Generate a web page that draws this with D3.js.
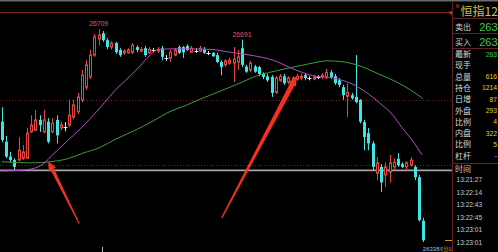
<!DOCTYPE html>
<html>
<head>
<meta charset="utf-8">
<script src="https://cdn.jsdelivr.net/npm/d3@7"></script>
<style>
html, body { margin: 0; padding: 0; background: #000; overflow: hidden; }
svg { display: block; }
</style>
</head>
<body>
<div id="chart"></div>
<script>

// bar prices (one entry per bar, left to right)
var opens  = [26548,26513,26487,26481,26481,26484,26484,26530,26533,26551,26530,26548,26530,26551,26537,26539,26542,26556,26565,26586,
              26608,26626,26664,26692,26702,26690,26678,26685,26673,26668,26668,26669,26678,26671,26676,26668,26673,26671,26676,26659,
              26659,26664,26678,26678,26680,26669,26672,26671,26674,26668,26668,26664,26652,26647,26650,26650,26652,26676,26644,26638,
              26644,26643,26631,26627,26626,26599,26620,26627,26617,26615,26622,26624,26629,26624,26622,26626,26626,26626,26634,26627,
              26620,26608,26592,26594,26591,26586,26547,26528,26510,26458,26469,26455,26460,26469,26483,26474,26469,26472,26469,26451,26375];
var highs  = [26573,26523,26495,26484,26521,26507,26537,26559,26568,26559,26568,26554,26554,26559,26547,26547,26586,26586,26598,26638,
              26655,26673,26701,26709,26706,26694,26688,26687,26676,26674,26676,26685,26681,26678,26680,26678,26676,26678,26680,26664,
              26673,26676,26681,26680,26683,26680,26676,26680,26678,26671,26669,26668,26655,26657,26659,26678,26673,26691,26647,26654,
              26647,26645,26634,26631,26629,26627,26631,26631,26627,26627,26631,26631,26633,26627,26629,26629,26633,26640,26638,26631,
              26624,26612,26615,26598,26664,26587,26551,26537,26514,26486,26474,26477,26490,26484,26493,26477,26479,26486,26472,26455,26380];
var lows   = [26512,26484,26477,26463,26479,26481,26483,26528,26531,26530,26528,26510,26528,26510,26533,26531,26538,26552,26561,26582,
              26603,26622,26661,26681,26687,26674,26674,26666,26661,26664,26666,26666,26669,26669,26661,26666,26669,26668,26655,26654,
              26652,26662,26666,26659,26671,26668,26668,26669,26666,26664,26661,26650,26629,26643,26647,26617,26638,26643,26633,26634,
              26633,26627,26622,26617,26591,26596,26617,26612,26613,26612,26619,26620,26620,26620,26620,26622,26622,26622,26622,26612,
              26608,26586,26556,26586,26580,26545,26498,26498,26463,26446,26425,26434,26442,26463,26469,26467,26463,26469,26446,26374,26338];
var closes = [26516,26487,26481,26469,26498,26495,26528,26542,26551,26542,26551,26513,26545,26524,26542,26539,26559,26577,26591,26629,
              26647,26664,26696,26699,26690,26678,26685,26669,26664,26671,26673,26681,26673,26674,26664,26674,26673,26674,26661,26659,
              26669,26673,26668,26669,26673,26676,26672,26676,26668,26668,26662,26652,26643,26654,26655,26657,26661,26647,26635,26650,
              26635,26631,26626,26620,26598,26624,26627,26615,26624,26624,26627,26627,26624,26624,26626,26626,26629,26634,26626,26615,
              26612,26594,26599,26589,26582,26548,26521,26510,26469,26476,26442,26469,26476,26477,26472,26469,26476,26481,26451,26376,26341];

// moving averages, sampled along the curves (bar position, price)
var maMidPos  = [0,4.3,7.9,9.8,12.2,15.5,18.6,23.3,27.6,30.4,32.8,35.2,37.1,42.3,49.4,54.2,58.9,64.4,69.1,73.8,78.6,83.3,87.4,89.7,92.8,94.9,97.3,99.7];
var maMidVal  = [26462,26463,26467,26474,26491,26514,26535,26572,26608,26627,26645,26664,26674,26675,26674,26669,26664,26655,26640,26628,26624,26613,26594,26580,26559,26538,26516,26490];
var maLongPos = [0,7.4,11.5,15.5,19.3,23.3,26.9,31.1,35.9,39.2,43.9,47,50.1,55.8,60.6,66,72.4,77.2,80.2,85,89.7,93.7,97.6,99.9];
var maLongVal = [26478,26476,26478,26483,26493,26503,26517,26531,26549,26563,26577,26587,26596,26613,26628,26638,26648,26654,26653,26645,26630,26617,26600,26588];

// horizontal levels: grey price line, dotted grid, top border line
var priceLine = 26463;
var dottedLevels = [26586, 26472];
var topLevel = 26740;

// bars whose highs are printed
var labelledHighs = [23, 57];

// the two hand-drawn arrows: [tail pos, tail price, tip pos, tip price]
var arrows = [
	[18.4, 26370, 11.05, 26479],
	[52.2, 26380, 70.0, 26628]
];

// quote panel
var quoteLabels = ['卖出', '买入'];
var quoteValues = ['263', '263'];
var infoLabels  = ['最新', '现手', '总量', '持仓', '日增', '外盘', '比例', '内盘', '比例', '杠杆'];
var infoValues  = ['263', '', '616', '1214', '87', '293', '4', '322', '5', '-'];
var tickTimes   = ['13:21:27', '13:22:14', '13:22:43', '13:22:45', '13:23:01', '13:23:01'];

var W = 498, H = 252, plotW = 452;
var numFont = '"Liberation Sans", Arial, sans-serif';
var cjkFont = '"Noto Sans CJK SC", sans-serif';
var upCol = '#e8443c', downCol = '#3ee6e6', flatCol = '#e8e8e8';
var frameCol = '#5e2222';

var bars = d3.range(opens.length).map(function(i) {
	return { i: i, o: opens[i], h: highs[i], l: lows[i], c: closes[i] };
});

var x = d3.scaleLinear().domain([0, bars.length - 1]).range([1.7, 423.3]);
var y = d3.scaleLinear().domain([d3.min(lows), d3.max(highs)]).range([242, 29.3]);
var px = function(i) { return Math.round(x(i)) + 0.5; };

var svg = d3.select('#chart').append('svg')
	.attr('width', W).attr('height', H)
	.style('background', '#000');

svg.append('defs').append('clipPath').attr('id', 'plotclip')
	.append('rect').attr('x', 0).attr('y', 0).attr('width', plotW).attr('height', H);

// top border lines
svg.append('rect').attr('x', 0).attr('y', 0).attr('width', W).attr('height', 1.5).attr('fill', '#6a6a6a');

var plot = svg.append('g').attr('clip-path', 'url(#plotclip)');

plot.append('line')
	.attr('x1', 0).attr('x2', plotW)
	.attr('y1', Math.round(y(topLevel)) + 0.5).attr('y2', Math.round(y(topLevel)) + 0.5)
	.attr('stroke', '#7e2828').attr('stroke-width', 1);

plot.selectAll('line.grid').data(dottedLevels).enter().append('line')
	.attr('class', 'grid')
	.attr('x1', 0).attr('x2', plotW)
	.attr('y1', function(d) { return Math.round(y(d)) + 0.5; })
	.attr('y2', function(d) { return Math.round(y(d)) + 0.5; })
	.attr('stroke', '#702222').attr('stroke-width', 1).attr('stroke-dasharray', '1,2');

plot.append('line')
	.attr('x1', 0).attr('x2', plotW + 1)
	.attr('y1', y(priceLine)).attr('y2', y(priceLine))
	.attr('stroke', '#a4a4a4').attr('stroke-width', 1.7);

// candles
function col(d) { return d.c > d.o ? upCol : (d.c < d.o ? downCol : flatCol); }

plot.selectAll('line.wick').data(bars).enter().append('line')
	.attr('class', 'wick')
	.attr('x1', function(d) { return px(d.i); })
	.attr('x2', function(d) { return px(d.i); })
	.attr('y1', function(d) { return y(d.h); })
	.attr('y2', function(d) { return y(d.l); })
	.attr('stroke', col).attr('stroke-width', 1);

plot.selectAll('rect.body').data(bars.filter(function(d) { return d.c != d.o; })).enter().append('rect')
	.attr('class', 'body')
	.attr('x', function(d) { return d.c > d.o ? px(d.i) - 1 : px(d.i) - 1.5; })
	.attr('width', function(d) { return d.c > d.o ? 2 : 3; })
	.attr('y', function(d) { return y(Math.max(d.o, d.c)); })
	.attr('height', function(d) { return Math.max(1, Math.abs(y(d.o) - y(d.c))); })
	.attr('fill', function(d) { return d.c > d.o ? '#000' : downCol; })
	.attr('stroke', function(d) { return d.c > d.o ? upCol : 'none'; })
	.attr('stroke-width', 1);

plot.selectAll('line.doji').data(bars.filter(function(d) { return d.c == d.o; })).enter().append('line')
	.attr('class', 'doji')
	.attr('x1', function(d) { return px(d.i) - 2; })
	.attr('x2', function(d) { return px(d.i) + 2; })
	.attr('y1', function(d) { return Math.round(y(d.o)) + 0.5; })
	.attr('y2', function(d) { return Math.round(y(d.o)) + 0.5; })
	.attr('stroke', flatCol).attr('stroke-width', 1);

// moving averages
var maLine = d3.line()
	.x(function(d) { return x(d[0]); })
	.y(function(d) { return y(d[1]); })
	.curve(d3.curveMonotoneX);

plot.append('path')
	.datum(d3.zip(maLongPos, maLongVal))
	.attr('d', maLine).attr('fill', 'none')
	.attr('stroke', '#3c9c3c').attr('stroke-width', 1);

plot.append('path')
	.datum(d3.zip(maMidPos, maMidVal))
	.attr('d', maLine).attr('fill', 'none')
	.attr('stroke', '#b04ec4').attr('stroke-width', 1);

// high / low labels
plot.selectAll('text.hi').data(labelledHighs).enter().append('text')
	.attr('class', 'hi')
	.attr('x', function(i) { return x(i); })
	.attr('y', function(i) { return y(highs[i]) - 3; })
	.attr('text-anchor', 'middle')
	.attr('font-family', numFont).attr('font-size', 6.8)
	.attr('fill', '#e35a55')
	.text(function(i) { return highs[i]; });

var lowIdx = d3.minIndex(lows);
plot.append('text')
	.attr('x', x(lowIdx) - 0.5).attr('y', y(lows[lowIdx]) + 8.5)
	.attr('font-family', numFont).attr('font-size', 6)
	.attr('fill', '#86c8e6')
	.text(lows[lowIdx]);
plot.append('text')
	.attr('x', x(lowIdx) + 17).attr('y', y(lows[lowIdx]) + 8.5)
	.attr('font-family', cjkFont).attr('font-size', 5.2)
	.attr('fill', '#e8a030')
	.text('6分10秒');
plot.append('line')
	.attr('x1', 445).attr('x2', plotW)
	.attr('y1', Math.round(y(lows[lowIdx] + 3)) + 0.5).attr('y2', Math.round(y(lows[lowIdx] + 3)) + 0.5)
	.attr('stroke', '#d89028').attr('stroke-width', 1);

// time tick at the bottom edge
plot.append('line')
	.attr('x1', px(24) - 1).attr('x2', px(24) - 1)
	.attr('y1', 247).attr('y2', H)
	.attr('stroke', '#bbbbbb').attr('stroke-width', 1);

// arrows
function arrowPath(a, wTail, wShaft, headW, headL) {
	var tx = x(a[0]), ty = y(a[1]), hx = x(a[2]), hy = y(a[3]);
	var len = Math.hypot(hx - tx, hy - ty);
	var ux = (hx - tx) / len, uy = (hy - ty) / len;
	var nx = -uy, ny = ux;
	var bx = hx - ux * headL, by = hy - uy * headL;
	var pts = [
		[tx + nx * wTail / 2, ty + ny * wTail / 2],
		[bx + nx * wShaft / 2, by + ny * wShaft / 2],
		[bx + nx * headW / 2, by + ny * headW / 2],
		[hx, hy],
		[bx - nx * headW / 2, by - ny * headW / 2],
		[bx - nx * wShaft / 2, by - ny * wShaft / 2],
		[tx - nx * wTail / 2, ty - ny * wTail / 2]
	];
	return 'M' + pts.map(function(p) { return p[0].toFixed(1) + ',' + p[1].toFixed(1); }).join('L') + 'Z';
}

plot.append('path').attr('d', arrowPath(arrows[0], 1, 3.6, 8, 9)).attr('fill', '#f2321e');
plot.append('path').attr('d', arrowPath(arrows[1], 1.2, 5, 8.5, 10)).attr('fill', '#f2321e');

// small marker at the end of the top line
svg.append('path')
	.attr('d', 'M448,12L453,11L453,16Z')
	.attr('fill', '#e03030');

// ---- quote panel ----
var panel = svg.append('g');
var pl = 452.5;

panel.append('line').attr('x1', pl).attr('x2', pl).attr('y1', 2).attr('y2', H)
	.attr('stroke', frameCol).attr('stroke-width', 1);

[18.5, 33.5, 48.5, 163.5].forEach(function(v) {
	panel.append('line').attr('x1', pl).attr('x2', W).attr('y1', v).attr('y2', v)
		.attr('stroke', frameCol).attr('stroke-width', 1);
});

panel.append('text').attr('x', 455.5).attr('y', 8)
	.attr('font-family', numFont).attr('font-size', 4.5).attr('fill', '#e03030')
	.text('M');
panel.append('text').attr('x', 460.5).attr('y', 15.6)
	.attr('font-family', cjkFont).attr('font-size', 12).attr('fill', '#cfc043')
	.text('恒指12');

panel.selectAll('text.ql').data(quoteLabels).enter().append('text')
	.attr('class', 'ql')
	.attr('x', 455).attr('y', function(d, k) { return 26 + k * 15.5; })
	.attr('dominant-baseline', 'central')
	.attr('font-family', cjkFont).attr('font-size', 8).attr('fill', '#d8d8d8')
	.text(function(d) { return d; });

panel.selectAll('text.qv').data(quoteValues).enter().append('text')
	.attr('class', 'qv')
	.attr('x', 497.5).attr('y', function(d, k) { return 26.5 + k * 15.5; })
	.attr('text-anchor', 'end')
	.attr('dominant-baseline', 'central')
	.attr('font-family', numFont).attr('font-size', 11).attr('fill', '#3ccc3c')
	.text(function(d) { return d; });

panel.selectAll('text.il').data(infoLabels).enter().append('text')
	.attr('class', 'il')
	.attr('x', 455).attr('y', function(d, k) { return 53.5 + k * 11.3; })
	.attr('dominant-baseline', 'central')
	.attr('font-family', cjkFont).attr('font-size', 8).attr('fill', '#d8d8d8')
	.text(function(d) { return d; });

panel.selectAll('text.iv').data(infoValues).enter().append('text')
	.attr('class', 'iv')
	.attr('x', 497).attr('y', function(d, k) { return 54 + k * 11.3; })
	.attr('text-anchor', 'end')
	.attr('dominant-baseline', 'central')
	.attr('font-family', numFont).attr('font-size', 6.8)
	.attr('fill', function(d, k) { return k == 0 ? '#3ccc3c' : (d == '-' ? '#d0d0d0' : '#e6c530'); })
	.text(function(d) { return d; });

panel.append('text').attr('x', 455).attr('y', 168.5)
	.attr('dominant-baseline', 'central')
	.attr('font-family', cjkFont).attr('font-size', 8).attr('fill', '#c8c8c8')
	.text('时间');

panel.selectAll('text.tt').data(tickTimes).enter().append('text')
	.attr('class', 'tt')
	.attr('x', 456.5).attr('y', function(d, k) { return 179.5 + k * 12.5; })
	.attr('dominant-baseline', 'central')
	.attr('font-family', numFont).attr('font-size', 6.6).attr('fill', '#cacaca')
	.text(function(d) { return d; });

</script>
</body>
</html>
